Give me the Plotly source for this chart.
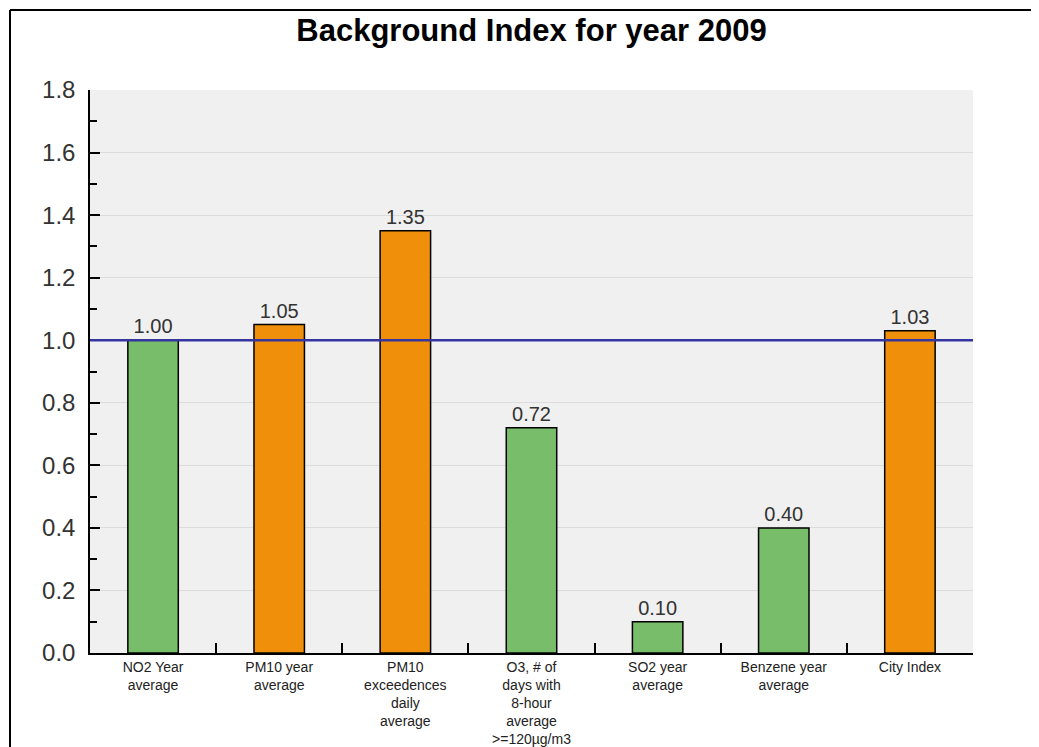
import plotly.graph_objects as go

categories = [
    "NO2 Year<br>average",
    "PM10 year<br>average",
    "PM10<br>exceedences<br>daily<br>average",
    "O3, # of<br>days with<br>8-hour<br>average<br>>=120µg/m3",
    "SO2 year<br>average",
    "Benzene year<br>average",
    "City Index",
]
values = [1.00, 1.05, 1.35, 0.72, 0.10, 0.40, 1.03]
bar_colors = ["#78BD69", "#F0900A", "#F0900A", "#78BD69", "#78BD69", "#78BD69", "#F0900A"]
reference_level = 1.0
y_ticks = [0.0, 0.2, 0.4, 0.6, 0.8, 1.0, 1.2, 1.4, 1.6, 1.8]

W, H = 1039, 747
OFF = 8  # default page body margin
L, T = 90 - OFF, 90 - OFF
PW, PH = 883, 563
R = W - L - PW
B = H - T - PH

fig = go.Figure()
fig.add_trace(go.Bar(
    x=categories,
    y=values,
    width=0.4,
    marker=dict(color=bar_colors, line=dict(color="black", width=1.5)),
    texttemplate="%{y:.2f}",
    textposition="outside",
    textfont=dict(family="Liberation Sans, Arial, sans-serif", size=20, color="#333333"),
    cliponaxis=False,
    hoverinfo="x+y",
))

fig.add_shape(type="line", xref="paper", yref="y", x0=0, x1=1,
              y0=reference_level, y1=reference_level,
              line=dict(color="#3535A0", width=2.5), layer="above")

# outer frame (left and top border)
fx = (10 - 90) / PW
fy = (90 + PH - 10) / PH
fig.add_shape(type="line", xref="paper", yref="paper", x0=fx, x1=fx,
              y0=fy, y1=-0.3, line=dict(color="black", width=2))
fig.add_shape(type="line", xref="paper", yref="paper", x0=fx, x1=1.2,
              y0=fy, y1=fy, line=dict(color="black", width=2))

fig.update_layout(
    width=W, height=H,
    margin=dict(l=L, r=R, t=T, b=B, autoexpand=False),
    paper_bgcolor="white",
    plot_bgcolor="#F0F0F0",
    showlegend=False,
    font=dict(family="Liberation Sans, Arial, sans-serif", color="#333333"),
    title=dict(text="<b>Background Index for year 2009</b>", x=0.5, xref="paper",
               y=1 - (30 - OFF) / H, yref="container", yanchor="middle",
               font=dict(size=31, color="black")),
)
fig.update_xaxes(
    type="category",
    automargin=False,
    showline=True, linecolor="black", linewidth=1.5,
    ticks="inside", tickson="boundaries", ticklen=10, tickcolor="black", tickwidth=1.5,
    tickfont=dict(size=14, color="#222222"),
    showgrid=False,
)
fig.update_yaxes(
    range=[0, 1.8],
    automargin=False,
    tickvals=y_ticks,
    tickformat=".1f",
    showline=True, linecolor="black", linewidth=1.5,
    ticks="inside", ticklen=10, tickcolor="black", tickwidth=1.5,
    ticklabelstandoff=8,
    tickfont=dict(size=24, color="#333333"),
    showgrid=True, gridcolor="#DCDCDC", gridwidth=1,
    zeroline=False,
    minor=dict(dtick=0.1, ticks="inside", ticklen=7, tickcolor="black", tickwidth=1.5, showgrid=False),
)

fig.write_html("out.html")
